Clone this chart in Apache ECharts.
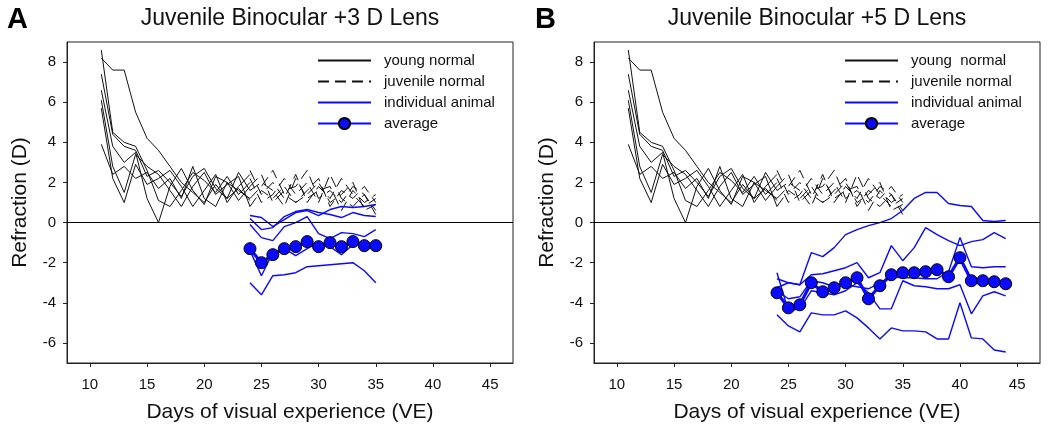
<!DOCTYPE html>
<html>
<head>
<meta charset="utf-8">
<script src="https://cdn.jsdelivr.net/npm/echarts@6/dist/echarts.min.js"></script>
<style>
html,body{margin:0;padding:0;background:#fff;}
#chart{width:1050px;height:432px;}
</style>
</head>
<body>
<div id="chart"></div>
<script>
// ---------------- data ----------------
const xTicks = [10, 15, 20, 25, 30, 35, 40, 45];
const yTicks = [-6, -4, -2, 0, 2, 4, 6, 8];

const youngDays = [11, 12, 13, 14, 15, 16, 17, 18, 19, 20, 21, 22, 23, 24];
const youngNormal = [
  [8.2, 7.6, 7.6, 5.5, 4.2, 3.6, 2.8, 2.0, 1.5, 1.0, 1.9, 1.2, 1.7, 1.1],
  [8.6, 4.5, 4.0, 3.8, 2.6, 1.1, 0.8, 1.6, 2.5, 2.1, 1.5, 2.3, 1.4, 2.0],
  [7.4, 4.4, 3.8, 3.6, 2.3, 2.6, 2.0, 1.3, 2.3, 2.7, 1.7, 1.2, 2.5, 1.6],
  [6.6, 3.8, 3.0, 3.5, 1.2, 0.0, 1.8, 2.7, 1.6, 0.9, 2.3, 2.0, 1.1, 1.8],
  [6.1, 2.8, 1.5, 3.4, 2.8, 2.4, 1.6, 0.8, 1.8, 2.5, 1.4, 1.9, 2.3, 0.8],
  [5.7, 2.2, 1.0, 2.9, 1.9, 2.2, 2.6, 1.8, 0.8, 1.6, 2.4, 1.0, 1.8, 2.4],
  [3.9, 2.4, 2.8, 2.2, 2.5, 1.7, 2.2, 1.2, 2.8, 1.2, 0.8, 2.0, 1.6, 1.2]
];

const juvDays = [24, 25, 26, 27, 28, 29, 30, 31, 32, 33, 34, 35];
const juvenileNormal = [
  [2.6, 1.4, 2.0, 1.2, 2.4, 1.0, 1.8, 1.2, 2.2, 1.4, 0.8, 1.2],
  [1.8, 2.4, 1.0, 1.6, 1.8, 2.6, 1.2, 1.6, 1.0, 1.8, 1.4, 0.6],
  [1.2, 1.8, 2.6, 1.4, 1.0, 1.6, 2.2, 0.8, 1.6, 1.2, 1.8, 1.0],
  [2.2, 1.0, 1.4, 2.2, 1.4, 2.0, 1.0, 2.4, 1.2, 0.8, 1.4, 0.4],
  [1.6, 2.0, 1.6, 0.8, 2.2, 1.2, 1.6, 1.8, 0.6, 1.6, 1.0, 1.4],
  [0.8, 1.6, 1.2, 1.8, 1.0, 1.4, 2.0, 1.0, 1.4, 2.0, 0.6, 0.9]
];

// Panel A: +3 D lens
const daysA = [24, 25, 26, 27, 28, 29, 30, 31, 32, 33, 34, 35];
const animalsA = [
  [0.35, 0.25, -0.2, 0.15, 0.5, 0.6, 0.35, 0.65, 0.8, 0.75, 0.8, 0.9],
  [0.2, -0.35, -0.25, 0.3, 0.55, 0.65, 0.5, 0.4, 0.25, 0.5, 0.35, 0.3],
  [-0.1, -0.75, -0.9, -0.2, 0.0, 0.3, -0.55, -0.8, -0.5, -0.55, -0.7, -0.35],
  [-1.4, -2.65, -1.5, -1.3, -1.65, -1.3, -1.0, -1.2, -1.6, -1.1, -1.2, -1.1],
  [-3.0, -3.6, -2.65, -2.6, -2.5, -2.2, -2.15, -2.1, -2.05, -2.0, -2.4, -3.0]
];
const averageA = [-1.3, -2.0, -1.6, -1.3, -1.2, -0.95, -1.2, -1.0, -1.2, -0.95, -1.15, -1.15];

// Panel B: +5 D lens
const daysB = [24, 25, 26, 27, 28, 29, 30, 31, 32, 33, 34, 35, 36, 37, 38, 39, 40, 41, 42, 43, 44];
const animalsB = [
  [-3.25, -3.0, -3.1, -1.5, -1.7, -1.25, -0.6, -0.35, -0.15, 0.0, 0.2, 0.6, 1.2, 1.5, 1.5, 0.95, 0.85, 0.8, 0.1, 0.05, 0.1],
  [-2.8, -3.0, -3.1, -2.6, -2.55, -2.4, -2.25, -2.0, -2.75, -2.5, -1.15, -1.9, -1.25, -0.25, -0.6, -0.9, -1.15, -0.95, -0.85, -0.5, -0.8],
  [-3.4, -3.8, -3.7, -2.9, -3.0, -3.2, -3.1, -3.2, -3.3, -3.0, -2.7, -2.75, -2.75, -2.8, -2.8, -2.45, -0.75, -2.2, -2.25, -2.2, -2.2],
  [-2.5, -4.4, -4.3, -3.4, -3.5, -3.6, -3.4, -3.0, -3.5, -4.3, -4.3, -2.9, -3.15, -3.2, -3.3, -3.3, -3.1, -4.55, -3.65, -3.45, -3.65],
  [-4.6, -5.15, -5.45, -4.5, -4.6, -4.6, -4.4, -4.75, -5.25, -5.8, -5.25, -5.4, -5.4, -5.45, -5.8, -5.8, -4.0, -5.75, -5.8, -6.35, -6.45]
];
const averageB = [-3.5, -4.25, -4.1, -3.0, -3.45, -3.25, -3.0, -2.75, -3.8, -3.15, -2.6, -2.5, -2.5, -2.45, -2.35, -2.7, -1.75, -2.9, -2.9, -2.95, -3.05];

const titles = ['Juvenile Binocular +3 D Lens', 'Juvenile Binocular +5 D Lens'];
const panelLetters = ['A', 'B'];
const legendNames = ['young normal', 'juvenile normal', 'individual animal', 'average'];

// ---------------- chart ----------------
const FONT = "'Liberation Sans', Arial, Helvetica, sans-serif";
const BLUE = '#0a0aff';
const INK = '#111';
const pair = (xs, ys) => xs.map((x, i) => [x, ys[i]]);

const grids = [
  { left: 67, top: 42, width: 446, height: 321 },
  { left: 594, top: 42, width: 446, height: 321 }
];

function panelSeries(idx, days, animals, avg) {
  const s = [];
  const base = { type: 'line', xAxisIndex: idx, yAxisIndex: idx, symbol: 'none', silent: true, animation: false, z: 2 };
  youngNormal.forEach((ys, k) => {
    const o = Object.assign({}, base, {
      name: 'young normal', data: pair(youngDays, ys),
      lineStyle: { color: INK, width: 1 }, itemStyle: { color: INK }
    });
    if (k === 0) {
      o.markLine = {
        silent: true, symbol: 'none', animation: false,
        label: { show: false },
        lineStyle: { color: '#000', width: 1, type: 'solid' },
        data: [{ yAxis: 0 }]
      };
    }
    s.push(o);
  });
  juvenileNormal.forEach(ys => {
    s.push(Object.assign({}, base, {
      name: 'juvenile normal', data: pair(juvDays, ys),
      lineStyle: { color: INK, width: 1, type: [11, 6] }, itemStyle: { color: INK }
    }));
  });
  animals.forEach(ys => {
    s.push(Object.assign({}, base, {
      name: 'individual animal', data: pair(days, ys), z: 3,
      lineStyle: { color: BLUE, width: 1.4 }, itemStyle: { color: BLUE }
    }));
  });
  s.push(Object.assign({}, base, {
    name: 'average', data: pair(days, avg), z: 5,
    symbol: 'circle', symbolSize: 12, showSymbol: true,
    lineStyle: { color: BLUE, width: 3.2 },
    itemStyle: { color: BLUE, borderColor: '#000', borderWidth: 1 }
  }));
  return s;
}

function xAxis(idx) {
  return {
    type: 'value', gridIndex: idx, min: 8, max: 47,
    name: 'Days of visual experience (VE)', nameLocation: 'middle', nameGap: 39,
    nameTextStyle: { fontFamily: FONT, fontSize: 21, color: INK },
    axisLine: { show: true, onZero: false, lineStyle: { color: '#222', width: 1 } },
    axisTick: { show: true, length: 4, customValues: xTicks, lineStyle: { color: '#222' } },
    axisLabel: { customValues: xTicks, fontFamily: FONT, fontSize: 15, color: INK, margin: 14 },
    splitLine: { show: false }
  };
}
function yAxis(idx) {
  return {
    type: 'value', gridIndex: idx, min: -7, max: 9,
    name: 'Refraction (D)', nameLocation: 'middle', nameGap: 36, nameRotate: 90,
    nameTextStyle: { fontFamily: FONT, fontSize: 21, color: INK },
    axisLine: { show: true, onZero: false, lineStyle: { color: '#222', width: 1 } },
    axisTick: { show: true, length: 4, customValues: yTicks, lineStyle: { color: '#222' } },
    axisLabel: { customValues: yTicks, fontFamily: FONT, fontSize: 15, color: INK, margin: 11 },
    splitLine: { show: false }
  };
}
function legend(idx) {
  return {
    show: true, orient: 'vertical', left: grids[idx].left + 250, top: 53,
    data: legendNames.map(n => n === 'average'
      ? { name: n }
      : { name: n, itemStyle: { opacity: 0 } }),
    selectedMode: false,
    itemWidth: 53, itemHeight: 14, itemGap: 6, padding: 0,
    formatter: idx === 1 ? (n => n === 'young normal' ? 'young  normal' : n) : (n => n),
    textStyle: { fontFamily: FONT, fontSize: 15, color: INK, lineHeight: 14, padding: [0, 0, 0, 8] }
  };
}

const graphics = [];
[0, 1].forEach(i => {
  const g = grids[i];
  graphics.push({
    type: 'text', x: g.left + g.width / 2, y: 19, silent: true,
    style: { text: titles[i], font: `23px ${FONT}`, fill: INK, textAlign: 'center', textVerticalAlign: 'middle' }
  });
  graphics.push({
    type: 'text', x: i === 0 ? 7 : 535, y: 20, silent: true,
    style: { text: panelLetters[i], font: `bold 29px ${FONT}`, fill: '#000', textAlign: 'left', textVerticalAlign: 'middle' }
  });
});

const option = {
  animation: false,
  backgroundColor: '#fff',
  textStyle: { fontFamily: FONT },
  grid: grids.map(g => Object.assign({ show: true, borderColor: '#222', borderWidth: 1, backgroundColor: 'transparent', containLabel: false }, g)),
  xAxis: [xAxis(0), xAxis(1)],
  yAxis: [yAxis(0), yAxis(1)],
  legend: [legend(0), legend(1)],
  graphic: graphics,
  series: panelSeries(0, daysA, animalsA, averageA).concat(panelSeries(1, daysB, animalsB, averageB))
};

const chart = echarts.init(document.getElementById('chart'), null, { renderer: 'canvas' });
chart.setOption(option);
</script>
</body>
</html>
